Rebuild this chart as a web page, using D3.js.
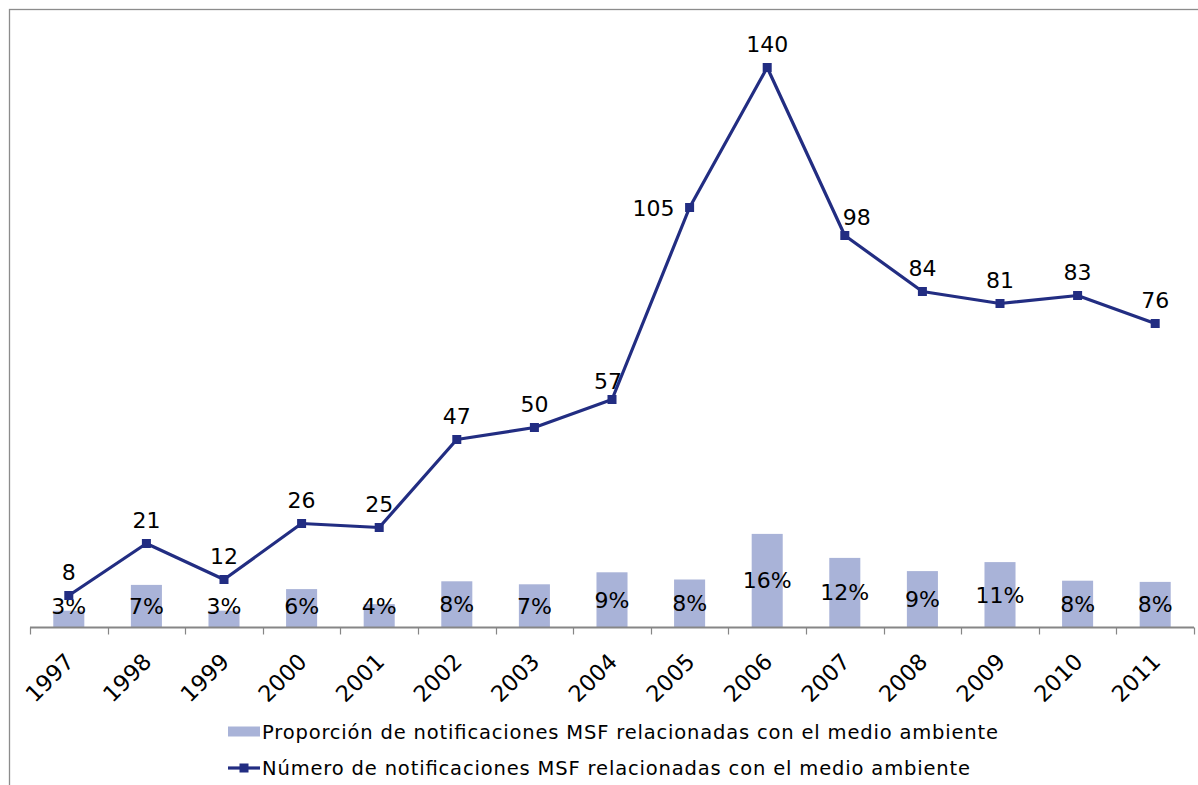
<!DOCTYPE html>
<html>
<head>
<meta charset="utf-8">
<script src="https://cdn.jsdelivr.net/npm/d3@7"></script>
<style>
  html, body { margin: 0; padding: 0; background: #fff; }
  svg { display: block; font-family: "DejaVu Sans", Verdana, sans-serif; }
</style>
</head>
<body>
<svg id="chart" width="1198" height="785"></svg>
<script>
// ---- data ----
const years = ["1997","1998","1999","2000","2001","2002","2003","2004","2005","2006","2007","2008","2009","2010","2011"];
const counts = [8, 21, 12, 26, 25, 47, 50, 57, 105, 140, 98, 84, 81, 83, 76];
const proportions = [0.028, 0.071, 0.028, 0.064, 0.039, 0.077, 0.072, 0.092, 0.080, 0.156, 0.116, 0.094, 0.109, 0.078, 0.076];
const seriesNames = [
  "Proporción de notificaciones MSF relacionadas con el medio ambiente",
  "Número de notificaciones MSF relacionadas con el medio ambiente"
];
const countDomain = [0, 150];
const propDomain = [0, 1];

// ---- layout ----
const svg = d3.select("#chart");
const plot = { left: 30, right: 1194, top: 27.5, bottom: 627.5 };
const barColor = "#a9b3d8";
const lineColor = "#222d82";
const axisColor = "#868686";

// outer chart border
svg.append("rect")
  .attr("x", 9.5).attr("y", 9.5)
  .attr("width", 1400).attr("height", 1000)
  .attr("fill", "none").attr("stroke", "#8c8c8c").attr("stroke-width", 1.3);

const x = d3.scaleBand().domain(years).range([plot.left, plot.right]).padding(0);
const yCount = d3.scaleLinear().domain(countDomain).range([plot.bottom, plot.top]);
const yProp = d3.scaleLinear().domain(propDomain).range([plot.bottom, plot.top]);
const cx = d => x(d) + x.bandwidth() / 2;
const barW = x.bandwidth() * 0.4;

// bars
svg.append("g").selectAll("rect").data(years).join("rect")
  .attr("x", d => cx(d) - barW / 2)
  .attr("y", (d, i) => yProp(proportions[i]))
  .attr("width", barW)
  .attr("height", (d, i) => plot.bottom - yProp(proportions[i]))
  .attr("fill", barColor);

// x axis
const xAxis = d3.axisBottom(x).tickSize(0).tickFormat("");
const gx = svg.append("g").attr("transform", `translate(0,${plot.bottom})`).call(xAxis);
gx.select(".domain").attr("stroke", axisColor).attr("stroke-width", 2).attr("d", `M${plot.left},0H${plot.right}`);
// ticks at category boundaries
const bounds = years.map(d => x(d)).concat([plot.right]);
svg.append("g").selectAll("line").data(bounds).join("line")
  .attr("x1", d => Math.round(d) + 0.5).attr("x2", d => Math.round(d) + 0.5)
  .attr("y1", plot.bottom).attr("y2", plot.bottom + 7)
  .attr("stroke", axisColor).attr("stroke-width", 1.2);

// year labels
svg.append("g").selectAll("text").data(years).join("text")
  .attr("transform", d => `translate(${cx(d) + 1},${plot.bottom + 30}) rotate(-45)`)
  .attr("text-anchor", "end")
  .attr("dy", "0.35em")
  .attr("font-size", 22.5)
  .attr("fill", "#000")
  .text(d => d);

// bar labels
const fmtPct = d3.format(".0%");
svg.append("g").selectAll("text").data(years).join("text")
  .attr("x", d => cx(d))
  .attr("y", (d, i) => Math.min((yProp(proportions[i]) + plot.bottom) / 2, plot.bottom - 21))
  .attr("dy", "0.35em")
  .attr("text-anchor", "middle")
  .attr("font-size", 22)
  .attr("fill", "#000")
  .text((d, i) => fmtPct(proportions[i]));

// line
const line = d3.line().x(d => cx(d)).y((d, i) => yCount(counts[i]));
svg.append("path").datum(years)
  .attr("d", line)
  .attr("fill", "none").attr("stroke", lineColor).attr("stroke-width", 3.2)
  .attr("stroke-linejoin", "round");

const mk = 9;
svg.append("g").selectAll("rect").data(years).join("rect")
  .attr("x", d => cx(d) - mk / 2)
  .attr("y", (d, i) => yCount(counts[i]) - mk / 2)
  .attr("width", mk).attr("height", mk)
  .attr("fill", lineColor);

// line labels (default above; a few placed manually as in original)
const labelOffsets = {
  "2005": { dx: -15, dy: 8, anchor: "end" },
  "2007": { dx: 12, dy: -11, anchor: "middle" },
  "2004": { dx: -4, dy: -11, anchor: "middle" }
};
svg.append("g").selectAll("text").data(years).join("text")
  .attr("x", d => cx(d) + (labelOffsets[d] ? labelOffsets[d].dx : 0))
  .attr("y", (d, i) => yCount(counts[i]) + (labelOffsets[d] ? labelOffsets[d].dy : -16))
  .attr("text-anchor", d => labelOffsets[d] ? labelOffsets[d].anchor : "middle")
  .attr("font-size", 22)
  .attr("fill", "#000")
  .text((d, i) => counts[i]);

// legend
const lg = svg.append("g");
lg.append("rect").attr("x", 228).attr("y", 726.5).attr("width", 32).attr("height", 10).attr("fill", barColor);
lg.append("text").attr("x", 262).attr("y", 738.5).attr("font-size", 19.5)
  .attr("textLength", 736).attr("lengthAdjust", "spacing")
  .attr("fill", "#000").text(seriesNames[0]);
lg.append("line").attr("x1", 228).attr("x2", 260).attr("y1", 768).attr("y2", 768)
  .attr("stroke", lineColor).attr("stroke-width", 3.2);
lg.append("rect").attr("x", 244 - mk / 2).attr("y", 768 - mk / 2).attr("width", mk).attr("height", mk).attr("fill", lineColor);
lg.append("text").attr("x", 262).attr("y", 775).attr("font-size", 19.5)
  .attr("textLength", 708).attr("lengthAdjust", "spacing")
  .attr("fill", "#000").text(seriesNames[1]);
</script>
</body>
</html>
